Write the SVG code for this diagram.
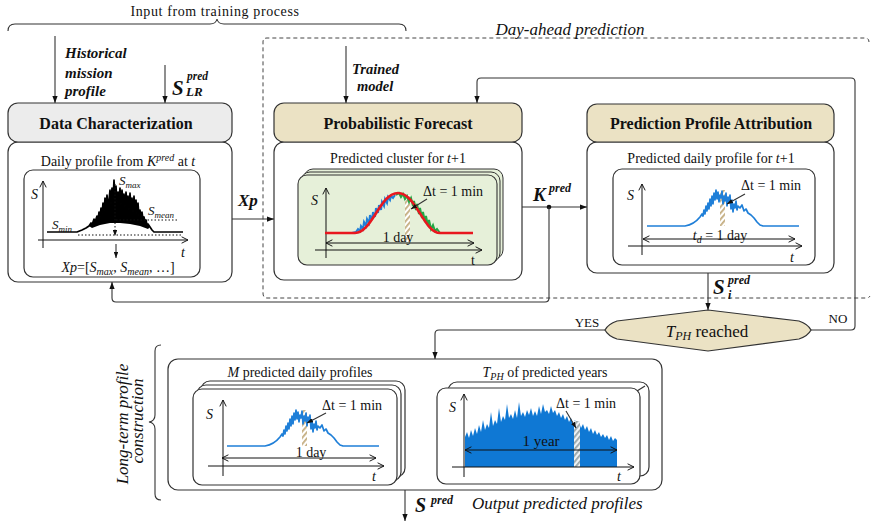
<svg xmlns="http://www.w3.org/2000/svg" xmlns:xlink="http://www.w3.org/1999/xlink" width="872" height="524" viewBox="0 0 872 524" font-family="'Liberation Serif', 'Times New Roman', 'DejaVu Serif', serif">
<style>
text{font-family:"Liberation Serif","Times New Roman","DejaVu Serif",serif;fill:#111}
.hdr{font-weight:bold;font-size:16px;text-anchor:middle}
.lbl{font-size:14px;text-anchor:middle}
.it{font-style:italic}
.bi{font-weight:bold;font-style:italic}
.box{fill:#fff;stroke:#333;stroke-width:1.2}
.conn{fill:none;stroke:#333;stroke-width:1.1}
.ax{fill:none;stroke:#111;stroke-width:1;marker-end:url(#open)}
.dbl{fill:none;stroke:#111;stroke-width:1;marker-start:url(#open);marker-end:url(#open)}
.blue{fill:none;stroke:#1f7fd8;stroke-width:1.7;stroke-linejoin:round}
.dot{fill:none;stroke:#111;stroke-width:1;stroke-dasharray:1.5,2}
.sm{font-size:14px}
</style>
<defs>
<marker id="arr" viewBox="0 0 8 6" refX="8" refY="3" markerWidth="7" markerHeight="5.5" orient="auto" markerUnits="userSpaceOnUse"><path d="M0,0 L8,3 L0,6 z" fill="#111"/></marker>
<marker id="sarr" viewBox="0 0 8 6" refX="8" refY="3" markerWidth="6" markerHeight="4.5" orient="auto" markerUnits="userSpaceOnUse"><path d="M0,0 L8,3 L0,6 z" fill="#111"/></marker>
<marker id="open" viewBox="0 0 10 10" refX="9" refY="5" markerWidth="8" markerHeight="8" orient="auto-start-reverse" markerUnits="userSpaceOnUse"><path d="M1,1 L9,5 L1,9" fill="none" stroke="#111" stroke-width="1.2"/></marker>
<pattern id="hatch" width="4" height="4" patternUnits="userSpaceOnUse" patternTransform="rotate(40)"><rect width="4" height="4" fill="#fff"/><rect width="1.8" height="4" fill="#c4ad80"/></pattern>
<pattern id="hatch2" width="4" height="4" patternUnits="userSpaceOnUse" patternTransform="rotate(40)"><rect width="4" height="4" fill="#eef2f5"/><rect width="1.8" height="4" fill="#9aa6a8"/></pattern>
<path id="dp" d="M0,0 H38 C44,-1 49,-4 53,-9 L55,-12 56,-10 57,-16 58,-12 59,-20 60,-15 61,-23 62,-17 63,-27 64,-20 65,-30 66,-22 67,-33 68,-26 69,-36 70,-27 71,-34 72,-24 73,-31 74,-28 75,-35 76,-22 77,-30 78,-25 79,-33 80,-20 81,-29 82,-24 83,-31 84,-17 85,-26 86,-14 87,-22 88,-18 89,-25 90,-16 91,-20 93,-18 95,-21 97,-15 99,-17 101,-13 104,-11 107,-8 110,-4 113,-1 116,0 H152"/>
</defs>

<rect width="872" height="524" fill="#fff"/>

<g id="training-brace">
<path d="M8,31 Q8,24 15,24 H210 Q216,24 217,19 Q218,24 224,24 H399 Q406,24 406,31" fill="none" stroke="#333" stroke-width="1.1"/>
<text x="215" y="16" font-size="14" text-anchor="middle" letter-spacing="0.6">Input from training process</text>
</g>
<g id="day-ahead-frame">
<path d="M869,42 Q869,38 865,38 H267 Q263,38 263,42 V293 Q263,298 267,298 H866 Q869,298 870,296" fill="none" stroke="#444" stroke-width="1" stroke-dasharray="4,3"/>
<text x="570" y="35" font-size="17" text-anchor="middle" class="it">Day-ahead prediction</text>
</g>

<g id="connectors">
<path class="conn" d="M55,36 V103" marker-end="url(#arr)"/>
<path class="conn" d="M165,65 V103" marker-end="url(#arr)"/>
<path class="conn" d="M346,46 V103" marker-end="url(#arr)"/>
<path class="conn" d="M811,330 H851 Q855,330 855,326 V82 Q855,78 851,78 H481 Q477,78 477,82 V103" marker-end="url(#arr)"/>
<path class="conn" d="M232,219 H274" marker-end="url(#arr)"/>
<path class="conn" d="M522,207 H587" marker-end="url(#arr)"/>
<circle cx="549" cy="207" r="2.3" fill="#111"/>
<path class="conn" d="M549,207 V298 Q549,302 545,302 H116 Q112,302 112,298 V282" marker-end="url(#arr)"/>
<path class="conn" d="M708,273 V310" marker-end="url(#arr)"/>
<path class="conn" d="M605,330 H439 Q435,330 435,334 V359" marker-end="url(#arr)"/>
<path class="conn" d="M404,432 H437" marker-end="url(#arr)"/>
<path class="conn" d="M405,490 V521" marker-end="url(#arr)"/>
<text x="587" y="327" font-size="13" text-anchor="middle">YES</text>
<text x="838" y="323" font-size="13" text-anchor="middle">NO</text>
<text x="238" y="206" font-size="17" class="bi">Xp</text>
<text x="533" y="201" font-size="19" class="bi">K</text>
<text x="549" y="192" font-size="12" class="bi">pred</text>
<text x="713" y="294" font-size="21" class="bi">S</text>
<text x="728" y="284" font-size="12" class="bi">pred</text>
<text x="728" y="299" font-size="12" class="bi">i</text>
<text x="415" y="512" font-size="20" class="bi">S</text>
<text x="431" y="504" font-size="12" class="bi">pred</text>
</g>

<g id="input-historical">
<text x="65" y="58" font-size="15" class="bi">Historical</text>
<text x="65" y="78" font-size="15" class="bi">mission</text>
<text x="65" y="96" font-size="15" class="bi">profile</text>
</g>
<g id="input-slr">
<text x="172" y="95" font-size="21" class="bi">S</text>
<text x="187" y="80" font-size="11.5" class="bi">pred</text>
<text x="186" y="96" font-size="13" class="bi">LR</text>
</g>
<g id="input-trained">
<text x="352" y="74" font-size="14.5" class="bi">Trained</text>
<text x="357" y="91" font-size="14.5" class="bi">model</text>
</g>

<g id="data-characterization">
<rect class="box" x="8" y="142" width="224" height="140" rx="10"/>
<rect x="8" y="103" width="224" height="39" rx="10" fill="#ececec" stroke="#333" stroke-width="1.2"/>
<text x="116" y="129" class="hdr">Data Characterization</text>
<text x="118" y="166" class="lbl">Daily profile from <tspan class="it">K</tspan><tspan class="it" font-size="10" dy="-5">pred</tspan><tspan dy="5"> at </tspan><tspan class="it">t</tspan></text>
<rect class="box" x="24" y="170" width="176" height="107" rx="9"/>
<path class="ax" d="M43,248 V181"/>
<path class="ax" d="M38,240 H188"/>
<text x="31" y="199" class="it" font-size="14">S</text>
<text x="181" y="257" class="it" font-size="14">t</text>
<path d="M89,226 L91,223 92,225 94,219 95,222 97,216 98,220 99,212 100,217 101,208 102,214 103,203 104,212 105,198 106,208 107,195 108,206 109,200 110,190 111,204 112,188 113,200 114,180 115,196 116,186 117,202 118,192 119,198 120,188 121,205 122,190 123,200 124,194 125,207 126,192 127,203 128,196 129,210 130,193 131,206 132,198 133,212 134,196 135,209 136,200 137,214 138,203 139,216 140,210 141,218 142,212 143,219 144,217 145,222 146,220 147,225 148,224 150,227 L148,229 140,226 130,224 120,223 110,223 100,225 92,228 Z" fill="#000"/>
<path d="M47,232 H77 L82,230 86,228 89,226 91,223 92,225 94,219 95,222 97,216 98,220 99,212 100,217 101,208 102,214 103,203 104,212 105,198 106,208 107,195 108,206 109,200 110,190 111,204 112,188 113,200 114,180 115,196 116,186 117,202 118,192 119,198 120,188 121,205 122,190 123,200 124,194 125,207 126,192 127,203 128,196 129,210 130,193 131,206 132,198 133,212 134,196 135,209 136,200 137,214 138,203 139,216 140,210 141,218 142,212 143,219 144,217 145,222 146,220 147,225 148,224 150,227 152,230 154,232 H183" fill="none" stroke="#000" stroke-width="1.7" stroke-linejoin="round"/>
<path class="dot" d="M115,184 V236" marker-end="url(#sarr)"/>
<path class="dot" d="M116,220 H178"/>
<path class="dot" d="M78,235 H183"/>
<text x="119" y="185" class="it" font-size="13">S<tspan font-size="9" dy="3">max</tspan></text>
<text x="148" y="215" class="it" font-size="13">S<tspan font-size="9" dy="3">mean</tspan></text>
<text x="52" y="229" class="it" font-size="13">S<tspan font-size="9" dy="3">min</tspan></text>
<path class="conn" d="M116,244 V258" marker-end="url(#sarr)"/>
<text x="118" y="272" class="lbl"><tspan class="it">Xp</tspan>=[<tspan class="it">S</tspan><tspan class="it" font-size="10" dy="3">max</tspan><tspan dy="-3">, </tspan><tspan class="it">S</tspan><tspan class="it" font-size="10" dy="3">mean</tspan><tspan dy="-3">, …]</tspan></text>
</g>

<g id="probabilistic-forecast">
<rect class="box" x="274" y="142" width="248" height="138" rx="10"/>
<rect x="274" y="103" width="248" height="39" rx="10" fill="#ebe2c4" stroke="#333" stroke-width="1.2"/>
<text x="398" y="129" class="hdr">Probabilistic Forecast</text>
<text x="398" y="163" class="lbl">Predicted cluster for <tspan class="it">t</tspan>+1</text>
<rect x="304" y="169" width="199" height="90" rx="9" fill="#e6f0d9" stroke="#333" stroke-width="1"/>
<rect x="301" y="172" width="199" height="90" rx="9" fill="#e6f0d9" stroke="#333" stroke-width="1"/>
<rect x="298" y="175" width="199" height="90" rx="9" fill="#e6f0d9" stroke="#333" stroke-width="1.1"/>
<path class="ax" d="M326,258 V188"/>
<path class="ax" d="M315,250 H482"/>
<text x="311" y="205" class="it" font-size="14">S</text>
<text x="471" y="265" font-size="14">t</text>
<rect x="405" y="195" width="5" height="47" fill="url(#hatch)"/>
<path d="M352,233 L356,232 358,229 360,231 361,226 363,229 364,222 366,226 367,219 369,223 370,215 372,220 373,212 375,217 376,208 378,213 379,205 381,210 382,202 384,206 385,199 387,203 388,197 390,200 391,196 393,198 395,195" fill="none" stroke="#1f7fd8" stroke-width="2"/>
<path d="M396,195 L399,193 401,197 403,194 405,199 407,196 409,202 411,198 413,206 414,201 416,210 417,204 419,214 420,208 422,218 423,212 425,222 426,216 428,226 429,220 431,229 433,225 435,231 437,229 440,233" fill="none" stroke="#22a745" stroke-width="2"/>
<path d="M325,233 H355 C372,233 380,193 398,193 C416,193 424,233 440,233 H473" fill="none" stroke="#e8171f" stroke-width="2.6"/>
<path class="dbl" d="M326,243 H474"/>
<text x="398" y="242" class="lbl">1 day</text>
<text x="423" y="196" class="sm">Δt = 1 min</text>
<path class="conn" d="M427,199 L411,209" marker-end="url(#sarr)"/>
</g>

<g id="prediction-profile-attribution">
<rect class="box" x="587" y="142" width="247" height="131" rx="10"/>
<rect x="587" y="104" width="247" height="38" rx="10" fill="#ebe2c4" stroke="#333" stroke-width="1.2"/>
<text x="711" y="129" class="hdr">Prediction Profile Attribution</text>
<text x="711" y="163" class="lbl">Predicted daily profile for <tspan class="it">t</tspan>+1</text>
<rect class="box" x="613" y="169" width="202" height="96" rx="9"/>
<path class="ax" d="M642,255 V184"/>
<path class="ax" d="M628,246 H802"/>
<text x="627" y="200" class="it" font-size="14">S</text>
<text x="790" y="262" class="it" font-size="14">t</text>
<rect x="720" y="190" width="5" height="36" fill="url(#hatch)"/>
<use href="#dp" xlink:href="#dp" transform="translate(647,226)" class="blue"/>
<path class="dbl" d="M643,239 H795"/>
<text x="720" y="240" class="lbl"><tspan class="it">t</tspan><tspan class="it" font-size="10" dy="3">d</tspan><tspan dy="-3"> = 1 day</tspan></text>
<text x="741" y="190" class="sm">Δt = 1 min</text>
<path class="conn" d="M745,194 L727,204" marker-end="url(#sarr)"/>
</g>

<g id="decision-tph">
<path d="M605,330 Q608,324 617,321 L708,310 L799,321 Q808,324 811,330 Q808,336 799,339 L708,351 L617,339 Q608,336 605,330 Z" fill="#ebe2c4" stroke="#333" stroke-width="1.2"/>
<text x="707" y="337" font-size="17" text-anchor="middle"><tspan class="it">T</tspan><tspan class="it" font-size="12" dy="3">PH</tspan><tspan dy="-3"> reached</tspan></text>
</g>

<g id="long-term-label">
<path d="M161,345 Q155,345 155,351 V415 Q155,421 149,422 Q155,423 155,429 V494 Q155,500 161,500" fill="none" stroke="#333" stroke-width="1.1"/>
<text transform="translate(128,424) rotate(-90)" font-size="17" text-anchor="middle" class="it">Long-term profile</text>
<text transform="translate(143,421) rotate(-90)" font-size="17" text-anchor="middle" class="it">construction</text>
</g>

<g id="long-term-construction">
<rect class="box" x="168" y="359" width="494" height="131" rx="10"/>
<text x="472" y="509" font-size="17" class="it">Output predicted profiles</text>
</g>

<g id="m-daily-profiles">
<text x="300" y="377" class="lbl"><tspan class="it">M</tspan> predicted daily profiles</text>
<rect class="box" x="201" y="381" width="204" height="96" rx="9" stroke-width="1"/>
<rect class="box" x="197" y="385" width="204" height="96" rx="9" stroke-width="1"/>
<rect class="box" x="193" y="389" width="204" height="96" rx="9" stroke-width="1.1"/>
<path class="ax" d="M223,476 V400"/>
<path class="ax" d="M208,466 H384"/>
<text x="206" y="419" class="it" font-size="14">S</text>
<text x="372" y="481" class="it" font-size="14">t</text>
<rect x="302" y="410" width="5" height="36" fill="url(#hatch)"/>
<use href="#dp" xlink:href="#dp" transform="translate(227,446)" class="blue"/>
<path class="dbl" d="M222,458 H376"/>
<text x="311" y="457" class="lbl">1 day</text>
<text x="322" y="410" class="sm">Δt = 1 min</text>
<path class="conn" d="M326,413 L307,423" marker-end="url(#sarr)"/>
</g>

<g id="tph-years">
<text x="545" y="377" class="lbl"><tspan class="it">T</tspan><tspan class="it" font-size="10" dy="3">PH</tspan><tspan dy="-3"> of predicted years</tspan></text>
<rect class="box" x="448" y="382" width="201" height="94" rx="9" stroke-width="1"/>
<path d="M637,391 L645,386" stroke="#333" stroke-width="1.2"/>
<rect class="box" x="437" y="388" width="203" height="96" rx="9" stroke-width="1.1"/>
<path d="M465,467 V437 L467,432 469,438 471,430 473,436 475,428 477,434 479,425 481,432 483,420 485,430 487,424 489,428 491,412 493,426 495,420 497,424 499,408 501,422 503,416 505,420 507,404 509,418 511,414 513,419 515,410 517,418 519,402 521,416 523,412 525,417 527,410 529,415 531,408 533,416 535,411 537,416 539,406 541,414 543,404 545,412 547,410 549,414 551,406 553,413 555,410 557,416 559,412 561,418 563,414 565,420 567,416 569,422 571,418 573,424 575,420 577,426 579,422 581,428 583,424 585,430 587,426 589,432 591,428 593,434 595,430 597,435 599,432 601,437 603,434 605,438 607,435 609,440 611,436 613,441 615,438 617,440 V467 Z" fill="#0f78d4"/>
<rect x="574" y="421" width="6" height="46" fill="url(#hatch2)"/>
<path class="ax" d="M464,477 V394"/>
<path class="ax" d="M452,467 H634"/>
<text x="449" y="412" class="it" font-size="14">S</text>
<text x="617" y="481" class="it" font-size="14">t</text>
<path class="dbl" d="M465,450 H617"/>
<text x="541" y="446" font-size="15" text-anchor="middle">1 year</text>
<text x="556" y="408" class="sm">Δt = 1 min</text>
<path class="conn" d="M566,411 L576,428" marker-end="url(#sarr)"/>
</g>
</svg>
